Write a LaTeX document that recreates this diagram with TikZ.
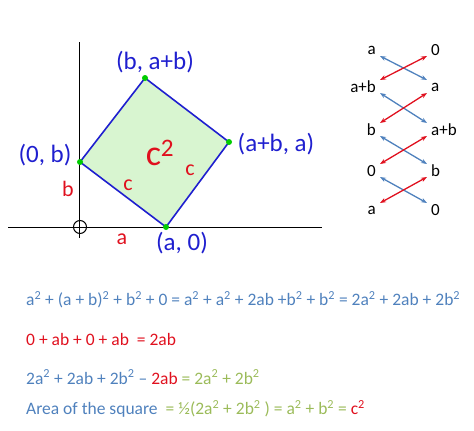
\documentclass[tikz,border=0pt]{standalone}
\usepackage{fontspec}
\setmainfont{Carlito}
\usetikzlibrary{arrows.meta}
\definecolor{eqb}{HTML}{4F81BD}
\definecolor{eqr}{HTML}{E0101E}
\definecolor{eqg}{HTML}{9BBB59}
\definecolor{lab}{HTML}{1F1FCF}
\definecolor{sq}{HTML}{D8F5D0}
\begin{document}
\begin{tikzpicture}[x=1pt,y=-1pt,
  pt/.style={circle,fill=green!80!black,inner sep=0pt,minimum size=6pt},
  coord/.style={text=lab,font=\fontsize{25}{25}\selectfont},
  side/.style={text=eqr,font=\fontsize{22}{22}\selectfont},
  col/.style={font=\fontsize{17}{17}\selectfont,inner sep=1pt},
  barr/.style={draw=eqb,line width=1.3pt,{Stealth[length=6pt]}-{Stealth[length=6pt]}},
  rarr/.style={draw=eqr,line width=1.3pt,{Stealth[length=6pt]}-{Stealth[length=6pt]}},
  eq/.style={anchor=west,font=\fontsize{17.5}{17.5}\selectfont,inner sep=0pt}]
\useasboundingbox (0,0) rectangle (474,431);
% axes
\draw[line width=0.9pt] (79,42) -- (79,238);
\draw[line width=0.9pt] (8,227) -- (322,227);
\node[draw,line width=1pt,circle,minimum size=13pt,inner sep=0pt] (o) at (80,227) {};
% square
\coordinate (T) at (145,78);
\coordinate (R) at (229,142);
\coordinate (B) at (166,227);
\coordinate (L) at (80,162);
\filldraw[fill=sq,draw=lab,line width=1.6pt] (T) -- (R) -- (B) -- (L) -- cycle;
\node[pt] (pT) at (T) {};
\node[pt] (pR) at (R) {};
\node[pt] (pB) at (B) {};
\node[pt] (pL) at (L) {};
\node[coord] (lT) at (155,62) {(b, a+b)};
\node[coord] (lR) at (276,144) {(a+b, a)};
\node[coord] (lL) at (45,155) {(0, b)};
\node[coord] (lB) at (182,243) {(a, 0)};
\node[text=eqr,font=\fontsize{36}{36}\selectfont] (c2) at (160,153) {c$^{\mathrm{2}}$};
\node[side] (c1) at (128,185) {c};
\node[side] (c3) at (190,170) {c};
\node[side] (sb) at (68,189) {b};
\node[side] (sa) at (122,239) {a};
% right diagram
\foreach \n/\t/\y in {l1/a/50,l2/a+b/87,l3/b/130,l4/0/171,l5/a/210}
  \node[col,anchor=east] (\n) at (377,\y) {\t};
\foreach \n/\t/\y in {r1/0/50,r2/a/87,r3/a+b/130,r4/b/171,r5/0/210}
  \node[col,anchor=west] (\n) at (430,\y) {\t};
\foreach \i/\j/\ya/\yb in {1/2/50/87,2/3/87/130,3/4/130/171,4/5/171/210}{
  \coordinate (bl\i) at (380,\ya+6);
  \coordinate (br\i) at (427,\yb-7);
  \coordinate (rl\i) at (380,\yb-7);
  \coordinate (rr\i) at (427,\ya+6);
  \draw[barr] (bl\i) -- (br\i);
  \draw[rarr] (rr\i) -- (rl\i);
}
% equations
\node[eq,text=eqb] (e1) at (26,300) {a\textsuperscript{2} + (a + b)\textsuperscript{2} + b\textsuperscript{2} + 0 = a\textsuperscript{2} + a\textsuperscript{2} + 2ab +b\textsuperscript{2} + b\textsuperscript{2} = 2a\textsuperscript{2} + 2ab + 2b\textsuperscript{2}};
\node[eq,text=eqr] (e2) at (26,339) {0 + ab + 0 + ab \ = 2ab};
\node[eq] (e3) at (26,377) {\textcolor{eqb}{2a\textsuperscript{2} + 2ab + 2b\textsuperscript{2} --} \textcolor{eqr}{2ab} \textcolor{eqg}{= 2a\textsuperscript{2} + 2b\textsuperscript{2}}};
\node[eq] (e4) at (26,409) {\textcolor{eqb}{Area of the square} \ \textcolor{eqg}{= ½(2a\textsuperscript{2} + 2b\textsuperscript{2} ) = a\textsuperscript{2} + b\textsuperscript{2} =} \textcolor{eqr}{c\textsuperscript{2}}};
\end{tikzpicture}
\end{document}
